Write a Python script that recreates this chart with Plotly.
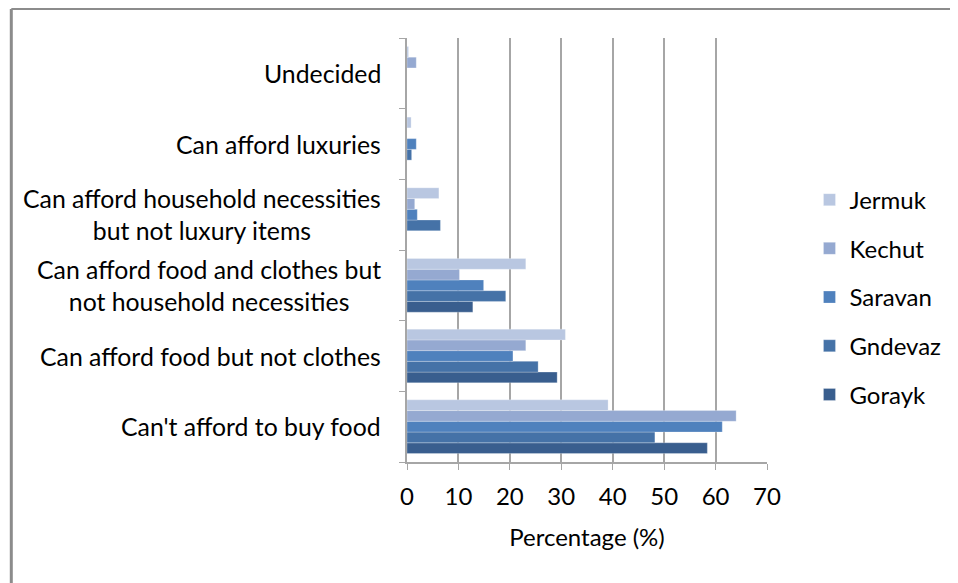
import plotly.graph_objects as go

categories = [
    "Can't afford to buy food",
    "Can afford food but not clothes",
    "Can afford food and clothes but<br>not household necessities",
    "Can afford household necessities<br>but not luxury items",
    "Can afford luxuries",
    "Undecided",
]
series_names = ["Gorayk", "Gndevaz", "Saravan", "Kechut", "Jermuk"]
gorayk = [58.4, 29.2, 12.8, 0.0, 0.0, 0.0]
gndevaz = [48.2, 25.5, 19.2, 6.5, 0.9, 0.0]
saravan = [61.3, 20.6, 14.9, 2.0, 1.8, 0.0]
kechut = [64.0, 23.1, 10.2, 1.5, 0.0, 1.8]
jermuk = [39.1, 30.8, 23.1, 6.2, 0.8, 0.3]
x_ticks = [0, 10, 20, 30, 40, 50, 60, 70]

values = [gorayk, gndevaz, saravan, kechut, jermuk]
colors = ["#395E8E", "#4572A7", "#4F81BD", "#95A9D1", "#B9C7E1"]

FONT = "Lato"
FS = 24
W, H = 950, 575
L, T, R, B = 399, 30, 188, 121
pw = W - L - R
ph = H - T - B

fig = go.Figure()
n = len(series_names)
for i, (name, vals, col) in enumerate(zip(series_names, values, colors)):
    fig.add_trace(go.Bar(
        y=categories, x=vals, name=name, orientation="h",
        marker=dict(color=col, line=dict(color="rgba(255,255,255,0.5)", width=0.5)),
        legendgroup=name, legendrank=n - i,
    ))

for cat in categories:
    fig.add_annotation(
        x=0, xref="paper", y=cat, yref="y", xanchor="right", yanchor="middle",
        xshift=-24, text=cat, showarrow=False, align="center",
        font=dict(family=FONT, size=24.8, color="#000000"),
    )

# outer chart frame: only top and left edges fall inside the picture
fig.add_shape(type="line", xref="paper", yref="paper",
              x0=(0 - L) / pw, x1=(W - L) / pw, y0=1 + (T - 1) / ph, y1=1 + (T - 1) / ph,
              line=dict(color="#8C8C8C", width=2))
fig.add_shape(type="line", xref="paper", yref="paper",
              x0=(0 - L) / pw, x1=(0 - L) / pw, y0=1 + (T - 1) / ph, y1=-(B) / ph,
              line=dict(color="#8C8C8C", width=3))

fig.update_layout(
    width=W, height=H,
    margin=dict(l=L, r=R, t=T, b=B),
    paper_bgcolor="white", plot_bgcolor="white",
    barmode="group", bargap=0.24, bargroupgap=0,
    font=dict(family=FONT, size=FS, color="#000000"),
    showlegend=True,
    legend=dict(
        x=1.118, y=0.389, xanchor="left", yanchor="middle",
        traceorder="grouped", tracegroupgap=14.5,
        font=dict(family=FONT, size=FS, color="#000000"),
        itemwidth=30,
    ),
    xaxis=dict(
        range=[0, 70], tickvals=x_ticks, ticktext=[str(t) for t in x_ticks],
        showgrid=True, gridcolor="#A6A6A6", gridwidth=1.5,
        showline=True, linecolor="#A6A6A6", linewidth=1.5,
        ticks="outside", ticklen=6, tickcolor="#A6A6A6",
        ticklabelstandoff=6,
        zeroline=False, fixedrange=True,
        title=dict(text="Percentage (%)", font=dict(family=FONT, size=FS), standoff=21),
        tickfont=dict(family=FONT, size=FS),
    ),
    yaxis=dict(
        categoryorder="array", categoryarray=categories,
        showticklabels=False,
        showline=True, linecolor="#A6A6A6", linewidth=1.5,
        ticks="outside", tickson="boundaries", ticklen=6, tickcolor="#A6A6A6",
        showgrid=False, zeroline=False, fixedrange=True,
    ),
)

fig.write_html("out.html")
